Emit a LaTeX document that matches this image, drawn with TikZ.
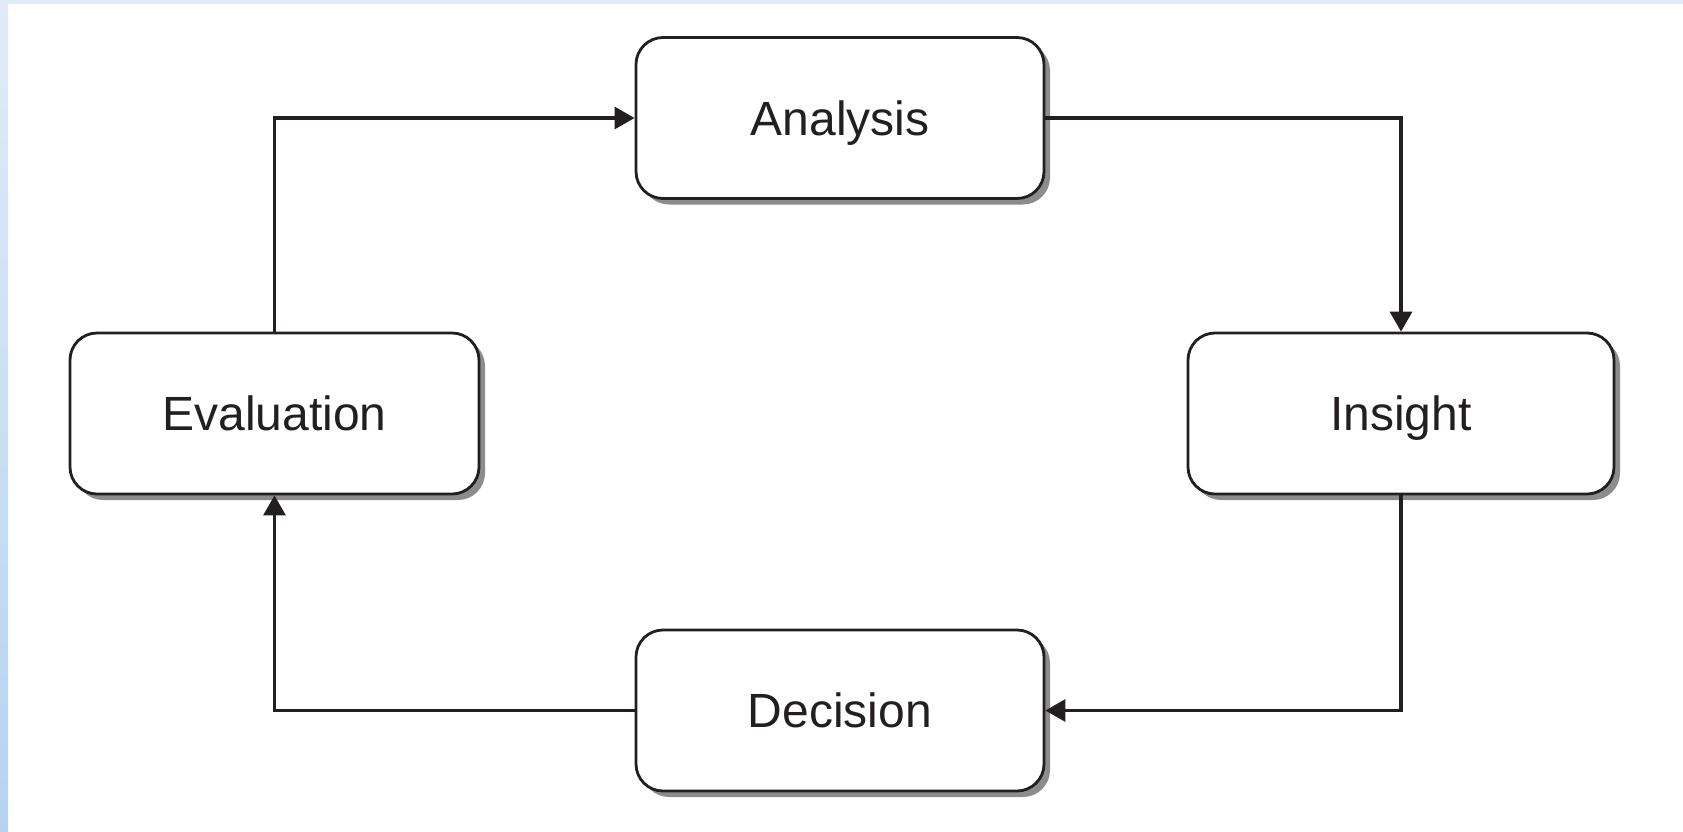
\documentclass[tikz,border=0pt]{standalone}
\usepackage{fontspec}
\setmainfont{Liberation Sans}
\usetikzlibrary{arrows.meta,shadows}
\definecolor{edgetop}{HTML}{E0EBF7}
\definecolor{edgebot}{HTML}{B6D3EE}
\definecolor{ink}{HTML}{231F20}
\definecolor{shade}{HTML}{8C8C8C}
\tikzset{
  stagebox/.style={draw=ink, line width=2.8pt, fill=white, rounded corners=27pt,
    minimum height=161pt, inner sep=0pt,
    font=\fontsize{48}{56}\selectfont, text=ink, text height=34pt, text depth=0pt,
    drop shadow={shadow xshift=6pt, shadow yshift=-6pt, fill=shade, opacity=1}},
  flow/.style={draw=ink, line width=3.2pt, -{Triangle[length=20pt,width=22pt]}}
}
\begin{document}
\begin{tikzpicture}[x=1pt,y=-1pt]
\useasboundingbox (0,0) rectangle (1683,831);
\fill[white] (0,0) rectangle (1683,831);
\fill[edgetop] (0,0) rectangle (1683,4);
\shade[top color=edgetop, bottom color=edgebot] (0,0) rectangle (8,831);
\node[stagebox, minimum width=408pt] (ana) at (840,118) {Analysis};
\node[stagebox, minimum width=426pt] (ins) at (1401,413.5) {Insight};
\node[stagebox, minimum width=409pt] (eva) at (274.5,413.5) {Evaluation};
\node[stagebox, minimum width=408pt] (dec) at (840,710.5) {Decision};
\draw[flow] (eva.north) |- (ana.west);
\draw[flow] (ana.east) -| (ins.north);
\draw[flow] (ins.south) |- (dec.east);
\draw[flow] (dec.west) -| (eva.south);
\end{tikzpicture}
\end{document}
